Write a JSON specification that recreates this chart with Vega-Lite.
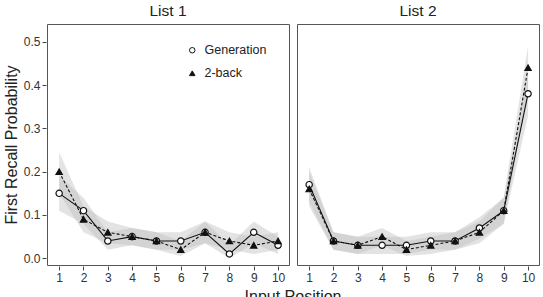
{
  "$schema": "https://vega.github.io/schema/vega-lite/v6.json",
  "padding": {"left": 3, "top": 3, "right": 0, "bottom": 0},
  "data": {
    "values": [
      {"list": "List 1", "cond": "Generation", "pos": 1, "p": 0.15, "lo": 0.11, "hi": 0.19},
      {"list": "List 1", "cond": "Generation", "pos": 2, "p": 0.11, "lo": 0.08, "hi": 0.14},
      {"list": "List 1", "cond": "Generation", "pos": 3, "p": 0.04, "lo": 0.02, "hi": 0.06},
      {"list": "List 1", "cond": "Generation", "pos": 4, "p": 0.05, "lo": 0.03, "hi": 0.07},
      {"list": "List 1", "cond": "Generation", "pos": 5, "p": 0.04, "lo": 0.02, "hi": 0.06},
      {"list": "List 1", "cond": "Generation", "pos": 6, "p": 0.04, "lo": 0.02, "hi": 0.06},
      {"list": "List 1", "cond": "Generation", "pos": 7, "p": 0.06, "lo": 0.035, "hi": 0.085},
      {"list": "List 1", "cond": "Generation", "pos": 8, "p": 0.01, "lo": 0.0, "hi": 0.03},
      {"list": "List 1", "cond": "Generation", "pos": 9, "p": 0.06, "lo": 0.035, "hi": 0.085},
      {"list": "List 1", "cond": "Generation", "pos": 10, "p": 0.03, "lo": 0.01, "hi": 0.05},
      {"list": "List 1", "cond": "2-back", "pos": 1, "p": 0.20, "lo": 0.15, "hi": 0.245},
      {"list": "List 1", "cond": "2-back", "pos": 2, "p": 0.09, "lo": 0.06, "hi": 0.12},
      {"list": "List 1", "cond": "2-back", "pos": 3, "p": 0.06, "lo": 0.035, "hi": 0.085},
      {"list": "List 1", "cond": "2-back", "pos": 4, "p": 0.05, "lo": 0.03, "hi": 0.07},
      {"list": "List 1", "cond": "2-back", "pos": 5, "p": 0.04, "lo": 0.02, "hi": 0.06},
      {"list": "List 1", "cond": "2-back", "pos": 6, "p": 0.02, "lo": 0.005, "hi": 0.04},
      {"list": "List 1", "cond": "2-back", "pos": 7, "p": 0.06, "lo": 0.035, "hi": 0.085},
      {"list": "List 1", "cond": "2-back", "pos": 8, "p": 0.04, "lo": 0.02, "hi": 0.06},
      {"list": "List 1", "cond": "2-back", "pos": 9, "p": 0.03, "lo": 0.01, "hi": 0.05},
      {"list": "List 1", "cond": "2-back", "pos": 10, "p": 0.04, "lo": 0.02, "hi": 0.06},
      {"list": "List 2", "cond": "Generation", "pos": 1, "p": 0.17, "lo": 0.13, "hi": 0.21},
      {"list": "List 2", "cond": "Generation", "pos": 2, "p": 0.04, "lo": 0.02, "hi": 0.06},
      {"list": "List 2", "cond": "Generation", "pos": 3, "p": 0.03, "lo": 0.01, "hi": 0.05},
      {"list": "List 2", "cond": "Generation", "pos": 4, "p": 0.03, "lo": 0.01, "hi": 0.05},
      {"list": "List 2", "cond": "Generation", "pos": 5, "p": 0.03, "lo": 0.01, "hi": 0.05},
      {"list": "List 2", "cond": "Generation", "pos": 6, "p": 0.04, "lo": 0.02, "hi": 0.06},
      {"list": "List 2", "cond": "Generation", "pos": 7, "p": 0.04, "lo": 0.02, "hi": 0.06},
      {"list": "List 2", "cond": "Generation", "pos": 8, "p": 0.07, "lo": 0.045, "hi": 0.095},
      {"list": "List 2", "cond": "Generation", "pos": 9, "p": 0.11, "lo": 0.08, "hi": 0.14},
      {"list": "List 2", "cond": "Generation", "pos": 10, "p": 0.38, "lo": 0.33, "hi": 0.43},
      {"list": "List 2", "cond": "2-back", "pos": 1, "p": 0.16, "lo": 0.12, "hi": 0.20},
      {"list": "List 2", "cond": "2-back", "pos": 2, "p": 0.04, "lo": 0.02, "hi": 0.06},
      {"list": "List 2", "cond": "2-back", "pos": 3, "p": 0.03, "lo": 0.01, "hi": 0.05},
      {"list": "List 2", "cond": "2-back", "pos": 4, "p": 0.05, "lo": 0.03, "hi": 0.07},
      {"list": "List 2", "cond": "2-back", "pos": 5, "p": 0.02, "lo": 0.005, "hi": 0.04},
      {"list": "List 2", "cond": "2-back", "pos": 6, "p": 0.03, "lo": 0.01, "hi": 0.05},
      {"list": "List 2", "cond": "2-back", "pos": 7, "p": 0.04, "lo": 0.02, "hi": 0.06},
      {"list": "List 2", "cond": "2-back", "pos": 8, "p": 0.06, "lo": 0.035, "hi": 0.085},
      {"list": "List 2", "cond": "2-back", "pos": 9, "p": 0.11, "lo": 0.08, "hi": 0.14},
      {"list": "List 2", "cond": "2-back", "pos": 10, "p": 0.44, "lo": 0.39, "hi": 0.49}
    ]
  },
  "facet": {
    "column": {
      "field": "list",
      "type": "nominal",
      "header": {
        "title": "Input Position",
        "titleOrient": "bottom",
        "titleFontSize": 16,
        "titleFontWeight": "normal",
        "titleColor": "#222",
        "titleFont": "Liberation Sans",
        "titlePadding": -4,
        "labelOrient": "top",
        "labelFontSize": 15.5,
        "labelFont": "Liberation Sans",
        "labelColor": "#222",
        "labelPadding": 4
      }
    }
  },
  "spacing": 6,
  "spec": {
    "width": 242,
    "height": 241,
    "layer": [
      {
        "mark": {"type": "area", "color": "#bdbdbd", "opacity": 0.42},
        "encoding": {
          "x": {"field": "pos", "type": "quantitative"},
          "y": {"field": "lo", "type": "quantitative"},
          "y2": {"field": "hi"},
          "detail": {"field": "cond"}
        }
      },
      {
        "transform": [{"filter": "datum.cond === 'Generation'"}],
        "mark": {"type": "line", "color": "#111", "strokeWidth": 1.1},
        "encoding": {
          "x": {"field": "pos", "type": "quantitative"},
          "y": {"field": "p", "type": "quantitative"}
        }
      },
      {
        "transform": [{"filter": "datum.cond === '2-back'"}],
        "mark": {"type": "line", "color": "#111", "strokeWidth": 1.1, "strokeDash": [3, 2]},
        "encoding": {
          "x": {"field": "pos", "type": "quantitative"},
          "y": {"field": "p", "type": "quantitative"}
        }
      },
      {
        "mark": {"type": "point", "filled": true, "strokeWidth": 1.2, "opacity": 1, "size": 40},
        "encoding": {
          "x": {"field": "pos", "type": "quantitative"},
          "y": {"field": "p", "type": "quantitative"},
          "shape": {
            "field": "cond", "type": "nominal",
            "scale": {"domain": ["Generation", "2-back"], "range": ["circle", "triangle-up"]},
            "legend": {"title": null, "orient": "none", "legendX": 139, "legendY": 20}
          },
          "fill": {
            "field": "cond", "type": "nominal",
            "scale": {"domain": ["Generation", "2-back"], "range": ["#ffffff", "#111111"]},
            "legend": {"title": null, "orient": "none", "legendX": 139, "legendY": 20}
          },
          "stroke": {
            "field": "cond", "type": "nominal",
            "scale": {"domain": ["Generation", "2-back"], "range": ["#111111", "#111111"]},
            "legend": {"title": null, "orient": "none", "legendX": 139, "legendY": 20}
          }
        }
      }
    ],
    "encoding": {
      "x": {
        "field": "pos", "type": "quantitative",
        "scale": {"domain": [0.5, 10.45], "nice": false, "zero": false},
        "axis": {"values": [1, 2, 3, 4, 5, 6, 7, 8, 9, 10], "title": null}
      },
      "y": {
        "field": "p", "type": "quantitative",
        "scale": {"domain": [-0.0155, 0.541], "nice": false, "zero": false},
        "axis": {"values": [0, 0.1, 0.2, 0.3, 0.4, 0.5], "format": ".1f", "title": "First Recall Probability"}
      }
    }
  },
  "config": {
    "font": "Liberation Sans",
    "view": {"stroke": "#555", "strokeWidth": 1},
    "axis": {
      "grid": false,
      "domain": false,
      "tickColor": "#444",
      "tickSize": 4,
      "labelFontSize": 12,
      "labelColor": "#333",
      "labelFont": "Liberation Sans",
      "titleFont": "Liberation Sans",
      "titleFontSize": 16,
      "titleFontWeight": "normal",
      "titleColor": "#222"
    },
    "legend": {
      "labelFontSize": 12.5,
      "labelColor": "#222",
      "symbolSize": 30,
      "symbolStrokeWidth": 1,
      "rowPadding": 10,
      "labelOffset": 6
    }
  }
}
